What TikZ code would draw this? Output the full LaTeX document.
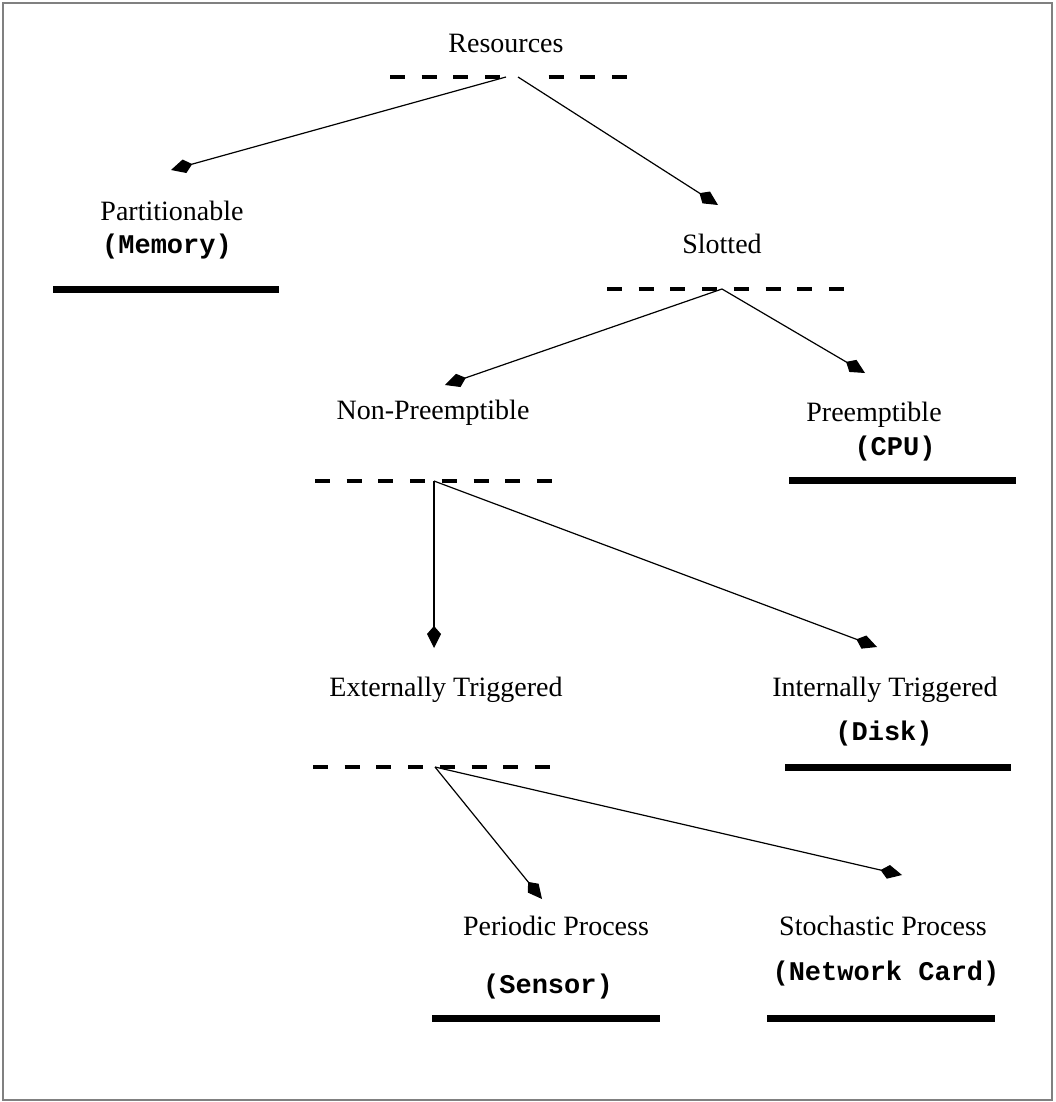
\documentclass[tikz,border=0pt]{standalone}
\usepackage{fontspec}
\setmainfont{Liberation Serif}
\setmonofont{Liberation Mono}
\usetikzlibrary{arrows.meta}

\begin{document}
\begin{tikzpicture}[x=1pt,y=-1pt,
  lbl/.style={anchor=base, inner sep=0pt, font=\fontsize{28}{32}\selectfont},
  res/.style={anchor=base, inner sep=0pt, font=\fontsize{27}{31}\selectfont\ttfamily\bfseries},
  sep/.style={line width=3.5pt, dash pattern=on 15pt off 16.7pt},
  leafbar/.style={line width=7pt},
  link/.style={line width=1.2pt, -{Kite[length=22pt,width=14pt,inset=8pt]}},
  frame/.style={draw=gray, line width=1.5pt}
]
\useasboundingbox (0,0) rectangle (1055,1102);
\draw[frame] (3,3) rectangle (1052,1100);

% Root
\node[lbl] (resources) at (506,53) {Resources};
\draw[sep] (390,77) -- (501,77);
\draw[sep] (548.5,77) -- (628,77);
\coordinate (rootL) at (506,77);
\coordinate (rootR) at (518,77);

% Partitionable
\node[lbl] (part) at (172,220) {Partitionable};
\node[res] (mem) at (167,253) {(Memory)};
\coordinate (partTip) at (171,170);
\draw[leafbar] (53,289) -- (279,289);

% Slotted
\node[lbl] (slotted) at (722,253) {Slotted};
\coordinate (slotTip) at (718,205);
\draw[sep] (607,289) -- (847,289);
\coordinate (slotSrc) at (722,289);

\draw[link] (rootL) -- (partTip);
\draw[link] (rootR) -- (slotTip);

% Non-Preemptible / Preemptible
\node[lbl] (nonpre) at (433,419) {Non-Preemptible};
\coordinate (nonpreTip) at (445,385);
\node[lbl] (pre) at (874,421) {Preemptible};
\node[res] (cpu) at (895,455) {(CPU)};
\coordinate (preTip) at (865,373);
\draw[leafbar] (789,480) -- (1016,480);

\draw[link] (slotSrc) -- (nonpreTip);
\draw[link] (slotSrc) -- (preTip);

\draw[sep] (315,481) -- (553,481);
\coordinate (nonpreSrc) at (434,481);

% Externally / Internally Triggered
\node[lbl] (ext) at (446,696) {Externally Triggered};
\coordinate (extTip) at (434,648);
\node[lbl] (int) at (885,696) {Internally Triggered};
\node[res] (disk) at (884,740) {(Disk)};
\coordinate (intTip) at (877,647);
\draw[leafbar] (785,767) -- (1011,767);

\draw[link] (nonpreSrc) -- (extTip);
\draw[link] (nonpreSrc) -- (intTip);

\draw[sep] (313,767) -- (553,767);
\coordinate (extSrc) at (435,767);

% Periodic / Stochastic Process
\node[lbl] (per) at (556,935) {Periodic Process};
\node[res] (sensor) at (548,993) {(Sensor)};
\coordinate (perTip) at (542,899);
\draw[leafbar] (432,1018) -- (660,1018);
\node[lbl] (sto) at (883,935) {Stochastic Process};
\node[res] (net) at (886,980) {(Network Card)};
\coordinate (stoTip) at (902,875);
\draw[leafbar] (767,1018) -- (995,1018);

\draw[link] (extSrc) -- (perTip);
\draw[link] (extSrc) -- (stoTip);
\end{tikzpicture}
\end{document}
